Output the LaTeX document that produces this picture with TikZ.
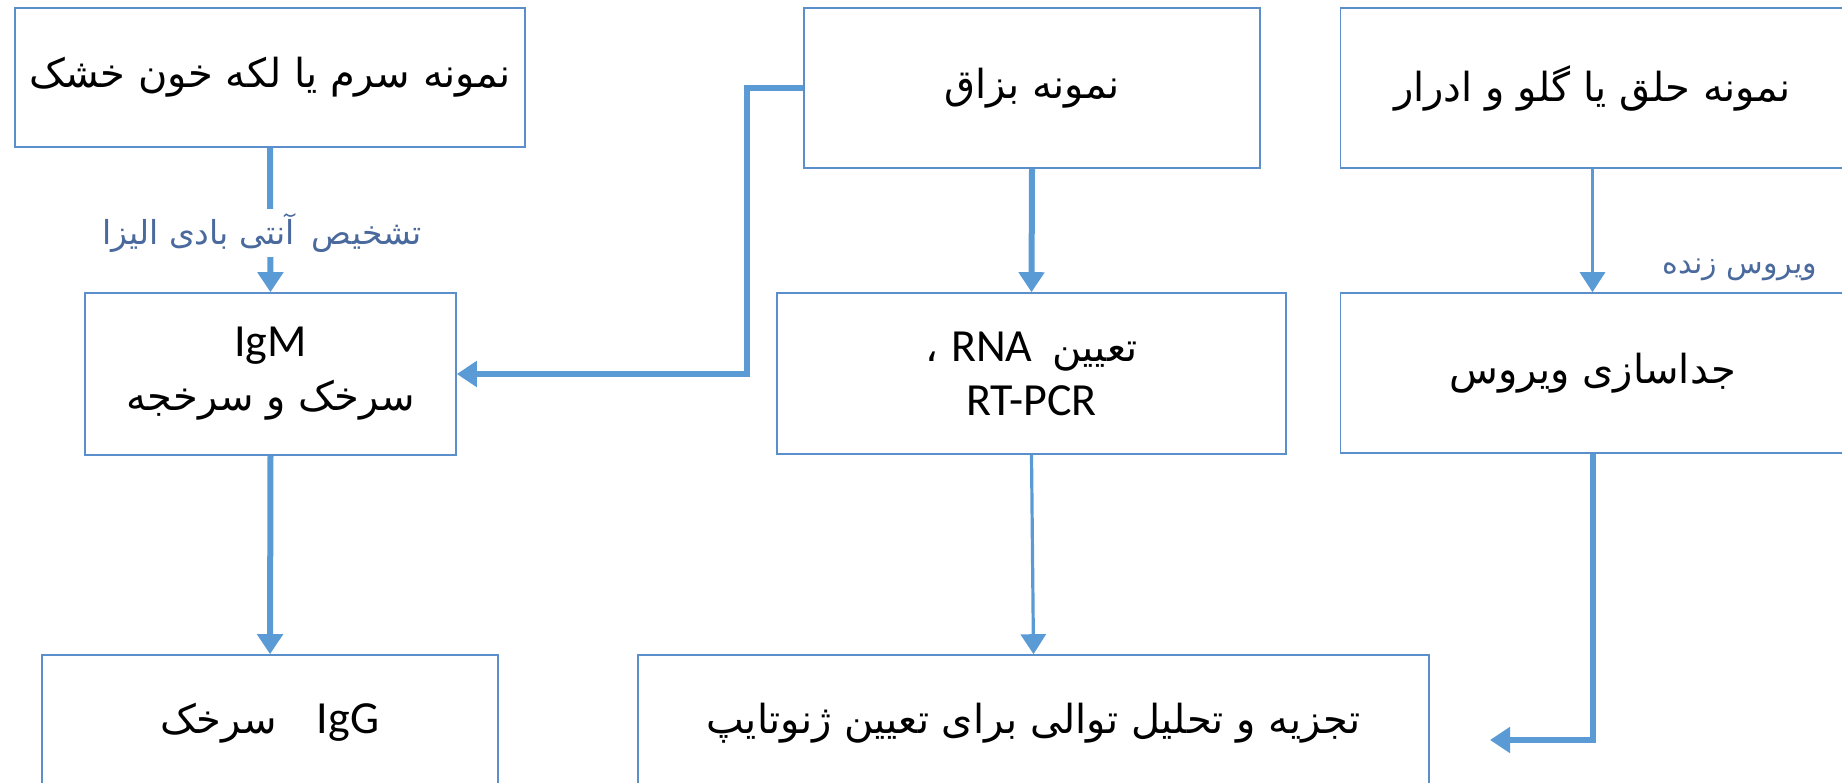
\documentclass[tikz,border=0pt]{standalone}
\usepackage{fontspec}
\setmainfont{Carlito}
\newfontfamily\latinfont{Carlito}
\newfontfamily\arabicfont[Script=Arabic]{DejaVu Sans}
\TeXXeTstate=1
\usetikzlibrary{arrows.meta, positioning}

\definecolor{linkblue}{HTML}{5B9BD5}
\definecolor{boxblue}{HTML}{5B8FCB}
\definecolor{notecol}{HTML}{4A6A9E}

\newcommand{\fa}[1]{{\arabicfont\beginR #1\endR}}
\newcommand{\lat}[1]{{\latinfont\fontsize{23}{27}\selectfont #1}}

\begin{document}
\begin{tikzpicture}[x=0.5pt, y=-0.5pt,
    box/.style={draw=boxblue, line width=0.8pt, fill=white, align=center,
      inner sep=0pt, font=\fontsize{20}{27}\selectfont},
    link/.style={-{Triangle[width=12.5pt, length=10pt]}, draw=linkblue,
      line width=3pt},
    thinlink/.style={link, line width=1.6pt},
    note/.style={text=notecol, font=\fontsize{15}{18}\selectfont}]
    \useasboundingbox (0,0) rectangle (1842,782);

    % samples
    \node[box, minimum width=255pt, minimum height=69.5pt] (serum) at (270,77.5)
      {\fa{نمونه سرم یا لکه خون خشک}};
    \node[box, minimum width=228pt, minimum height=80pt] (saliva) at (1032,88)
      {\fa{نمونه بزاق}};
    \node[box, minimum width=252pt, minimum height=80pt] (swab) at (1592.5,88)
      {\fa{نمونه حلق یا گلو و ادرار}};

    % tests
    \node[box, minimum width=185.5pt, minimum height=81pt] (igm) at (270.5,374)
      {\lat{IgM}\\ \fa{سرخک و سرخجه}};
    \node[box, minimum width=254.5pt, minimum height=80.5pt] (rna) at (1031.5,373.5)
      {\fa{تعیین\enspace\beginL\lat{RNA}\endL{} ،}\\ \lat{RT-PCR}};
    \node[box, minimum width=252pt, minimum height=80pt] (iso) at (1592.5,373)
      {\fa{جداسازی ویروس}};

    % results
    \node[box, minimum width=228pt, minimum height=68pt] (igg) at (270,723)
      {\fa{\beginL\lat{IgG}\endL{}\enspace\enspace سرخک}};
    \node[box, minimum width=395.5pt, minimum height=68pt] (geno) at (1033.5,723)
      {\fa{تجزیه و تحلیل توالی برای تعیین ژنوتایپ}};

    \coordinate (salivabend) at (747,88);
    \coordinate (genoin) at (1490,740);

    \draw[link] (serum.south) -- (igm.north);
    \draw[link] (igm.south) -- (igg.north);
    \draw[link] (saliva.south) -- (rna.north);
    \draw[thinlink] (rna.south) -- (geno.north);
    \draw[thinlink] (swab.south) -- (iso.north);
    \draw[link] (saliva.west) -- (salivabend) |- (igm.east);
    \draw[link] (iso.south) |- (genoin);

    \node[note, fill=white, inner sep=2pt, font=\fontsize{16.5}{19}\selectfont]
      (elisa) at (262,233) {\fa{تشخیص\enspace آنتی بادی الیزا}};
    \node[note] (live) at (1740,270) {\fa{ویروس زنده}};
\end{tikzpicture}
\end{document}
